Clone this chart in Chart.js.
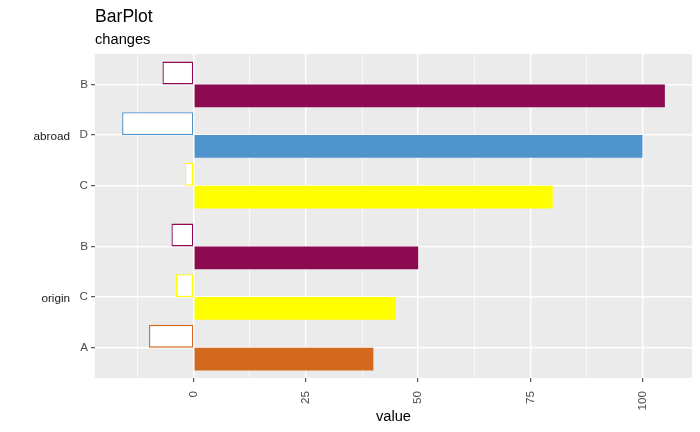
<!DOCTYPE html>
<html>
<head>
<meta charset="utf-8">
<title>BarPlot</title>
<script src="https://cdn.jsdelivr.net/npm/chart.js@4/dist/chart.umd.min.js"></script>
<style>
  body { margin: 0; background: #ffffff; }
</style>
</head>
<body>
<canvas id="grafico" width="700" height="432"></canvas>
<script>
// datos
const facetas = ['abroad', 'origin'];
const categoriasAbroad = ['B', 'D', 'C'];
const valoresAbroad = [105, 100, 80];
const cambiosAbroad = [-7, -16, -2];
const categoriasOrigin = ['B', 'C', 'A'];
const valoresOrigin = [50, 45, 40];
const cambiosOrigin = [-5, -4, -10];
const xTicks = [0, 25, 50, 75, 100];

const colores = { A: '#D2691E', B: '#8B0A50', C: '#FFFF00', D: '#4F94CD' };
const fuente = "'Liberation Sans', Arial, sans-serif";

const paneles = [
  { nombre: facetas[0], cats: categoriasAbroad, valores: valoresAbroad, cambios: cambiosAbroad },
  { nombre: facetas[1], cats: categoriasOrigin, valores: valoresOrigin, cambios: cambiosOrigin }
];

// posiciones en el eje y: cada faceta se expande 0.6 por lado (como ggplot)
const EXP = 0.6;
const filas = [];
let inicio = 0;
paneles.forEach(p => {
  p.posiciones = p.cats.map((c, i) => inicio + i);
  p.cats.forEach((c, i) => {
    filas.push({ pos: inicio + i, cat: c, valor: p.valores[i], cambio: p.cambios[i] });
  });
  inicio += p.cats.length - 1 + 2 * EXP;
});
const yMin = -EXP;
const yMax = inicio - EXP;

const todos = filas.flatMap(f => [f.valor, f.cambio, 0]);
const lo = Math.min(...todos);
const hi = Math.max(...todos);
const pad = (hi - lo) * 0.05;

// lineas menores a mitad de camino entre las mayores
const paso = xTicks[1] - xTicks[0];
const gridX = [];
for (let v = xTicks[0] - paso / 2; v <= hi + pad; v += paso / 2) {
  if (v >= lo - pad) gridX.push(v);
}
const esMayor = v => xTicks.some(t => Math.abs(t - v) < 1e-9);
const etiquetaY = v => {
  const f = filas.find(f => Math.abs(f.pos - v) < 1e-9);
  return f ? f.cat : '';
};

const fondoPanel = {
  id: 'fondoPanel',
  beforeDraw(chart) {
    const { ctx, chartArea: a } = chart;
    ctx.save();
    ctx.fillStyle = '#FFFFFF';
    ctx.fillRect(0, 0, chart.width, chart.height);
    ctx.fillStyle = '#EBEBEB';
    ctx.fillRect(a.left, a.top, a.right - a.left, a.bottom - a.top);
    ctx.restore();
  }
};

const textos = {
  id: 'textos',
  afterDraw(chart) {
    const { ctx, chartArea: a } = chart;
    const y = chart.scales.y;
    ctx.save();
    ctx.fillStyle = '#000000';
    ctx.textAlign = 'left';
    ctx.textBaseline = 'alphabetic';
    ctx.font = '17.6px ' + fuente;
    ctx.fillText('BarPlot', a.left, 22);
    ctx.font = '14.67px ' + fuente;
    ctx.fillText('changes', a.left, 44);

    // etiquetas de faceta (strip) fuera del eje
    ctx.fillStyle = '#1A1A1A';
    ctx.font = '11.7px ' + fuente;
    ctx.textAlign = 'right';
    ctx.textBaseline = 'middle';
    paneles.forEach(p => {
      const medio = (p.posiciones[0] + p.posiciones[p.posiciones.length - 1]) / 2;
      ctx.fillText(p.nombre, 70, y.getPixelForValue(medio) + 2);
    });
    ctx.restore();
  }
};

const ctx = document.getElementById('grafico').getContext('2d');
new Chart(ctx, {
  type: 'bar',
  data: {
    datasets: [
      {
        label: 'changes',
        data: filas.map(f => ({ x: f.cambio, y: f.pos })),
        backgroundColor: '#FFFFFF',
        borderColor: filas.map(f => colores[f.cat]),
        borderWidth: 1.3,
        borderSkipped: false,
        categoryPercentage: 0.9,
        barPercentage: 1.0
      },
      {
        label: 'value',
        data: filas.map(f => ({ x: f.valor, y: f.pos })),
        backgroundColor: filas.map(f => colores[f.cat]),
        borderWidth: 0,
        categoryPercentage: 0.9,
        barPercentage: 1.0
      }
    ]
  },
  options: {
    indexAxis: 'y',
    responsive: false,
    animation: false,
    layout: { padding: { top: 54, right: 8, left: 0, bottom: 0 } },
    plugins: {
      legend: { display: false },
      tooltip: { enabled: false }
    },
    scales: {
      x: {
        type: 'linear',
        min: lo - pad,
        max: hi + pad,
        afterBuildTicks: s => { s.ticks = gridX.map(v => ({ value: v })); },
        afterFit: s => { s.height = 54; },
        border: { display: false },
        grid: {
          color: '#FFFFFF',
          lineWidth: c => (c.tick && esMayor(c.tick.value)) ? 1.4 : 0.7,
          tickColor: c => (c.tick && esMayor(c.tick.value)) ? '#333333' : 'rgba(0,0,0,0)',
          tickLength: 4,
          tickWidth: 1
        },
        ticks: {
          autoSkip: false,
          minRotation: 90,
          maxRotation: 90,
          padding: 9,
          color: '#4D4D4D',
          font: { family: fuente, size: 11.7 },
          callback: v => esMayor(v) ? String(v) : ''
        },
        title: {
          display: true,
          text: 'value',
          color: '#000000',
          font: { family: fuente, size: 14.67 },
          padding: { top: 0, bottom: 6 }
        }
      },
      y: {
        type: 'linear',
        reverse: true,
        offset: false,
        min: yMin,
        max: yMax,
        afterBuildTicks: s => { s.ticks = filas.map(f => ({ value: f.pos })); },
        afterFit: s => { s.width = 95; },
        border: { display: false },
        grid: {
          offset: false,
          color: '#FFFFFF',
          lineWidth: 1.4,
          tickColor: '#333333',
          tickLength: 4,
          tickWidth: 1
        },
        ticks: {
          autoSkip: false,
          padding: 3,
          color: '#4D4D4D',
          font: { family: fuente, size: 11.7 },
          callback: v => etiquetaY(v)
        }
      }
    }
  },
  plugins: [fondoPanel, textos]
});
</script>
</body>
</html>
